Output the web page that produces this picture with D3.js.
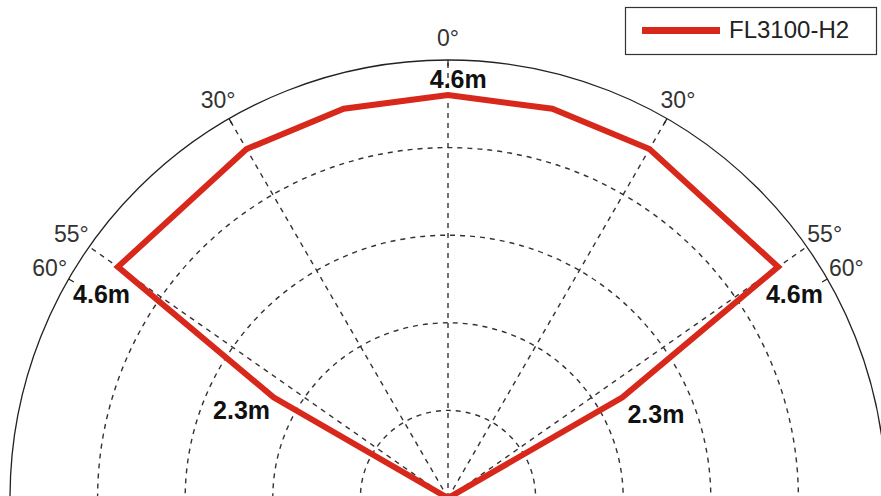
<!DOCTYPE html>
<html>
<head>
<meta charset="utf-8">
<script src="https://cdn.jsdelivr.net/npm/d3@7"></script>
<style>
  body { margin: 0; background: #fff; }
  svg { display: block; }
</style>
</head>
<body>
<div id="chart"></div>
<script>
// detection pattern, angle in degrees from straight ahead, range in metres
const angles = [-60, -60, -55, -30, -15, 0, 15, 30, 55, 60, 60];
const ranges = [0, 2.3, 4.6, 4.6, 4.6, 4.6, 4.6, 4.6, 4.6, 2.3, 0];

const rings = [1, 2, 3, 4];
const maxRange = 5;
const spokes = [-55, -30, 0, 30, 55];
const ticks = [-60, -30, 0, 30, 60];
const angleLabelAt = [-60, -55, -30, 0, 30, 55, 60];
const angleLabelText = ["60°", "55°", "30°", "0°", "30°", "55°", "60°"];

// range annotations (angle, range, text)
const noteAngle = [1.4, -59.5, 59.5, -67, 68];
const noteRange = [4.78, 4.59, 4.59, 2.56, 2.56];
const noteText = ["4.6m", "4.6m", "4.6m", "2.3m", "2.3m"];

const seriesName = "FL3100-H2";

const width = 881, height = 496;
const cx = 448, cy = 498;

const svg = d3.select("#chart").append("svg")
  .attr("width", width)
  .attr("height", height);

const r = d3.scaleLinear().domain([0, maxRange]).range([0, 438]);
const rad = a => a * Math.PI / 180;
const px = (a, v) => cx + r(v) * Math.sin(rad(a));
const py = (a, v) => cy - r(v) * Math.cos(rad(a));

const g = svg.append("g").attr("transform", `translate(${cx},${cy})`);

// dashed range rings
g.selectAll(".ring")
  .data(rings)
  .join("circle")
  .attr("r", d => r(d))
  .attr("fill", "none")
  .attr("stroke", "#333")
  .attr("stroke-width", 1.4)
  .attr("stroke-dasharray", "5,5");

// dashed spokes
g.selectAll(".spoke")
  .data(spokes)
  .join("line")
  .attr("x1", 0).attr("y1", 0)
  .attr("x2", d => r(maxRange) * Math.sin(rad(d)))
  .attr("y2", d => -r(maxRange) * Math.cos(rad(d)))
  .attr("stroke", "#333")
  .attr("stroke-width", 1.4)
  .attr("stroke-dasharray", "5,5");

// outer circle
g.append("circle")
  .attr("r", r(maxRange))
  .attr("fill", "none")
  .attr("stroke", "#222")
  .attr("stroke-width", 1.3);

// tick marks on outer circle
g.selectAll(".tick")
  .data(ticks)
  .join("line")
  .attr("x1", d => r(maxRange) * Math.sin(rad(d)))
  .attr("y1", d => -r(maxRange) * Math.cos(rad(d)))
  .attr("x2", d => (r(maxRange) - 6) * Math.sin(rad(d)))
  .attr("y2", d => -(r(maxRange) - 6) * Math.cos(rad(d)))
  .attr("stroke", "#222")
  .attr("stroke-width", 1.3);

// angle labels
svg.selectAll(".alabel")
  .data(angleLabelAt)
  .join("text")
  .attr("x", d => px(d, 5.25))
  .attr("y", d => py(d, 5.25))
  .attr("text-anchor", "middle")
  .attr("dominant-baseline", "central")
  .style("font-family", "'Liberation Sans', Arial, sans-serif")
  .style("font-size", "23px")
  .attr("fill", "#333")
  .text((d, i) => angleLabelText[i]);

// pattern outline
const line = d3.lineRadial()
  .angle(d => rad(d[0]))
  .radius(d => r(d[1]));

g.append("path")
  .datum(angles.map((a, i) => [a, ranges[i]]))
  .attr("d", line)
  .attr("fill", "none")
  .attr("stroke", "#d8281c")
  .attr("stroke-width", 6)
  .attr("stroke-linejoin", "miter");

// range annotations
svg.selectAll(".note")
  .data(noteAngle)
  .join("text")
  .attr("x", (d, i) => px(d, noteRange[i]))
  .attr("y", (d, i) => py(d, noteRange[i]))
  .attr("text-anchor", "middle")
  .attr("dominant-baseline", "central")
  .style("font-family", "'Liberation Sans', Arial, sans-serif")
  .style("font-size", "25px")
  .style("font-weight", "bold")
  .attr("fill", "#111")
  .text((d, i) => noteText[i]);

// legend
const legend = svg.append("g").attr("transform", "translate(625,7)");
legend.append("rect")
  .attr("x", 0.5).attr("y", 0.5)
  .attr("width", 251).attr("height", 47)
  .attr("fill", "#fff")
  .attr("stroke", "#333")
  .attr("stroke-width", 1.2);
legend.append("line")
  .attr("x1", 17).attr("x2", 95)
  .attr("y1", 23.5).attr("y2", 23.5)
  .attr("stroke", "#d8281c")
  .attr("stroke-width", 7);
legend.append("text")
  .attr("x", 104)
  .attr("y", 31)
  .style("font-family", "'Liberation Sans', Arial, sans-serif")
  .style("font-size", "24px")
  .attr("fill", "#222")
  .text(seriesName);
</script>
</body>
</html>
